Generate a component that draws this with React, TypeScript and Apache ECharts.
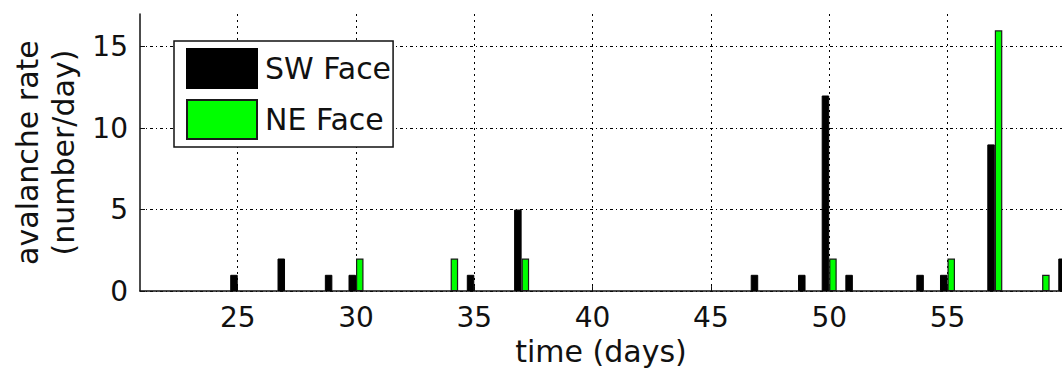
import React, { useEffect, useRef } from "react";
import * as echarts from "echarts";

const days = [25, 27, 29, 30, 34, 35, 37, 47, 49, 50, 51, 54, 55, 57, 59, 60];
const swFace = [1, 2, 1, 1, 0, 1, 5, 1, 1, 12, 1, 1, 1, 9, 0, 2];
const neFace = [0, 0, 0, 2, 2, 0, 2, 0, 0, 2, 0, 0, 2, 16, 1, 0];
const xTicks = [25, 30, 35, 40, 45, 50, 55];
const yTicks = [0, 5, 10, 15];

const toPairs = (vals: number[]) =>
  days.map((d, i) => [d, vals[i]]).filter((p) => p[1] > 0);

const FONT = "DejaVu Sans";

export default function App() {
  const ref = useRef<HTMLDivElement>(null);
  useEffect(() => {
    document.body.style.margin = "0";
    const chart = echarts.init(ref.current!, null, { renderer: "svg" });
    chart.setOption({
      animation: false,
      backgroundColor: "#fff",
      grid: { left: 140, right: 0, top: 14, bottom: 77 },
      legend: {
        orient: "vertical",
        left: 174,
        top: 41,
        icon: "rect",
        itemWidth: 70,
        itemHeight: 39,
        itemGap: 10,
        padding: [7, 2, 7, 12],
        backgroundColor: "#fff",
        borderColor: "#111",
        borderWidth: 1.5,
        borderRadius: 0,
        textStyle: { fontFamily: FONT, fontSize: 30, color: "#111", padding: [0, 0, 0, 3] },
        data: ["SW Face", "NE Face"],
      },
      xAxis: {
        type: "value",
        min: 20.87,
        max: 59.84,
        name: "time (days)",
        nameLocation: "middle",
        nameGap: 44,
        nameTextStyle: { fontFamily: FONT, fontSize: 30, color: "#111" },
        axisLine: { show: true, lineStyle: { color: "#111", width: 1.5 } },
        axisTick: { show: true, inside: true, length: 5, customValues: xTicks, lineStyle: { color: "#111" } },
        axisLabel: { customValues: xTicks, fontFamily: FONT, fontSize: 28, color: "#111", margin: 12 },
        splitLine: { show: true, lineStyle: { color: "#000", width: 1, type: [2, 4] } },
      },
      yAxis: {
        type: "value",
        min: 0,
        max: 17,
        name: "avalanche rate\n(number/day)",
        nameLocation: "middle",
        nameGap: 58,
        nameTextStyle: { fontFamily: FONT, fontSize: 30, color: "#111", lineHeight: 36 },
        axisLine: { show: true, lineStyle: { color: "#111", width: 1.5 } },
        axisTick: { show: true, inside: true, length: 5, customValues: yTicks, lineStyle: { color: "#111" } },
        axisLabel: { customValues: yTicks, fontFamily: FONT, fontSize: 28, color: "#111", margin: 12 },
        splitLine: { show: true, lineStyle: { color: "#000", width: 1, type: [3, 3, 1, 3] } },
      },
      series: [
        {
          name: "SW Face",
          type: "bar",
          barWidth: 7.5,
          barGap: "0%",
          data: toPairs(swFace),
          itemStyle: { color: "#000", borderColor: "#000", borderWidth: 1 },
        },
        {
          name: "NE Face",
          type: "bar",
          barWidth: 7.5,
          barGap: "0%",
          data: toPairs(neFace),
          itemStyle: { color: "#00ff00", borderColor: "#1a1a1a", borderWidth: 1.2 },
        },
      ],
    });
    return () => chart.dispose();
  }, []);
  return <div ref={ref} style={{ width: 1062, height: 371 }} />;
}
